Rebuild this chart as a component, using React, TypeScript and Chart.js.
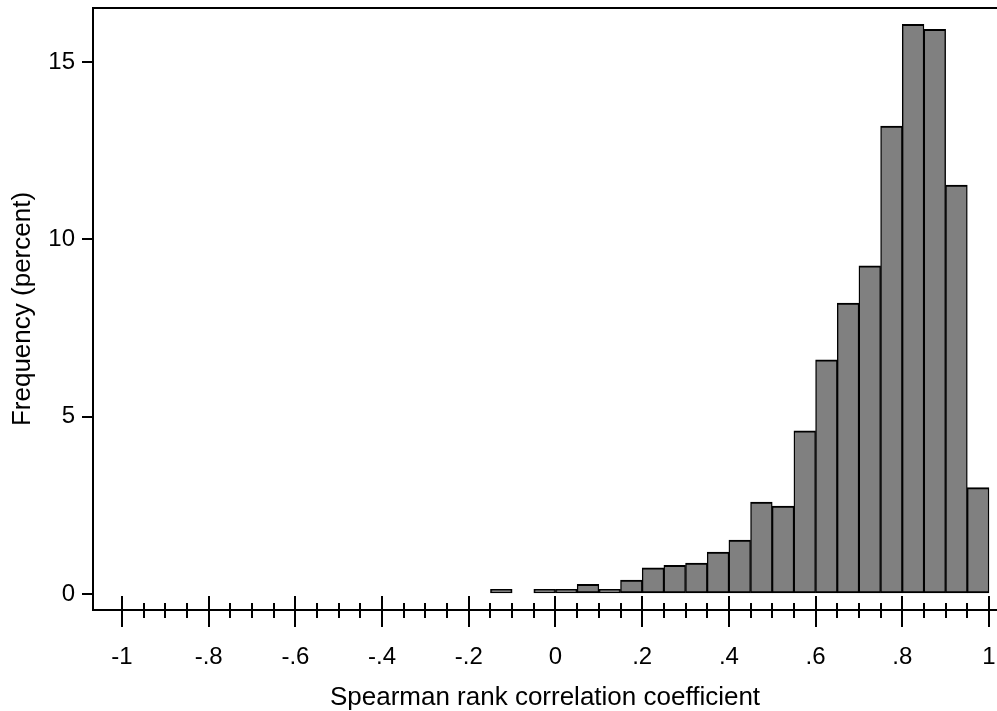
import React, { useEffect, useRef } from 'react';
import { Chart, registerables } from 'chart.js';

Chart.register(...registerables);

// Histogram bins (lower edge) and frequency in percent
const binLower = [
  -0.15, -0.1, -0.05, 0.0, 0.05, 0.1, 0.15, 0.2, 0.25, 0.3, 0.35, 0.4,
  0.45, 0.5, 0.55, 0.6, 0.65, 0.7, 0.75, 0.8, 0.85, 0.9, 0.95,
];
const frequency = [
  0.13, null, 0.13, 0.13, 0.27, 0.13, 0.39, 0.74, 0.81, 0.87, 1.18, 1.52,
  2.59, 2.48, 4.6, 6.6, 8.2, 9.25, 13.19, 16.06, 15.92, 11.53, 3.0,
];
const binWidth = 0.05;

const xMajorTicks = [-1, -0.8, -0.6, -0.4, -0.2, 0, 0.2, 0.4, 0.6, 0.8, 1];
const xTickLabels = ['-1', '-.8', '-.6', '-.4', '-.2', '0', '.2', '.4', '.6', '.8', '1'];
const xMinorTicks = [
  -1, -0.95, -0.9, -0.85, -0.8, -0.75, -0.7, -0.65, -0.6, -0.55, -0.5, -0.45,
  -0.4, -0.35, -0.3, -0.25, -0.2, -0.15, -0.1, -0.05, 0, 0.05, 0.1, 0.15, 0.2,
  0.25, 0.3, 0.35, 0.4, 0.45, 0.5, 0.55, 0.6, 0.65, 0.7, 0.75, 0.8, 0.85, 0.9,
  0.95, 1,
];
const yTicks = [0, 5, 10, 15];
const yTickLabels = ['0', '5', '10', '15'];

const xTitle = 'Spearman rank correlation coefficient';
const yTitle = 'Frequency (percent)';

// axis ranges (frame extents)
const X_MIN = -1.0669;
const X_MAX = 1.0185;
const Y_MIN = -0.451;
const Y_MAX = 16.522;
const Y_MAJOR_TOP = -0.0564; // where upper half of major ticks starts
const Y_MINOR_TOP = -0.2538; // where minor ticks start

const FONT = 'Liberation Sans, Arial, Helvetica, sans-serif';

export default function App() {
  const ref = useRef<HTMLCanvasElement>(null);

  useEffect(() => {
    const canvas = ref.current;
    if (!canvas) return;
    Chart.defaults.color = '#000';
    const points = binLower.map((lo, i) => ({ x: lo + binWidth / 2, y: frequency[i] }));

    const noPad = (s: any) => {
      s.paddingLeft = 0;
      s.paddingRight = 0;
      s.paddingTop = 0;
      s.paddingBottom = 0;
    };

    const hiddenTickAxis = (pos: number, values: number[], len: number) => ({
      type: 'linear' as const,
      axis: 'x' as const,
      position: { y: pos },
      min: X_MIN,
      max: X_MAX,
      offset: false,
      afterBuildTicks: (s: any) => {
        s.ticks = values.map((v) => ({ value: v }));
      },
      afterFit: noPad,
      grid: {
        display: true,
        offset: false,
        drawOnChartArea: false,
        drawTicks: true,
        tickLength: len,
        color: '#000',
        lineWidth: 2,
      },
      border: { display: false },
      ticks: { display: false, autoSkip: false },
    });

    const chart = new Chart(canvas, {
      type: 'bar',
      data: {
        datasets: [
          {
            data: points as any,
            xAxisID: 'x',
            yAxisID: 'y',
            backgroundColor: '#808080',
            borderColor: '#000',
            borderWidth: { top: 2, bottom: 2, left: 1.4, right: 1.4 },
            borderSkipped: false,
            barPercentage: 1,
            categoryPercentage: 1,
          },
        ],
      },
      options: {
        animation: false,
        responsive: false,
        devicePixelRatio: 1,
        layout: { padding: { top: 8, left: 0, right: 0, bottom: 0 } },
        plugins: { legend: { display: false }, tooltip: { enabled: false } },
        scales: {
          x: {
            type: 'linear',
            position: 'bottom',
            min: X_MIN,
            max: X_MAX,
            offset: false,
            afterBuildTicks: (s: any) => {
              s.ticks = xMajorTicks.map((v) => ({ value: v }));
            },
            afterFit: (s: any) => {
              s.height = 101;
              noPad(s);
            },
            grid: {
              display: true,
              offset: false,
              drawOnChartArea: false,
              drawTicks: true,
              tickLength: 17,
              color: '#000',
              lineWidth: 2,
            },
            border: { display: true, color: '#000', width: 2 },
            ticks: {
              autoSkip: false,
              maxRotation: 0,
              minRotation: 0,
              padding: 16,
              color: '#000',
              font: { family: FONT, size: 24 },
              callback: (_v: any, i: number) => xTickLabels[i],
            },
            title: {
              display: true,
              text: xTitle,
              color: '#000',
              font: { family: FONT, size: 26, lineHeight: 1 },
              padding: 0,
            },
          },
          xUp: hiddenTickAxis(Y_MAJOR_TOP, xMajorTicks, 14) as any,
          xMinor: hiddenTickAxis(Y_MINOR_TOP, xMinorTicks, 15) as any,
          xTop: {
            type: 'linear',
            axis: 'x',
            position: { y: Y_MAX },
            min: X_MIN,
            max: X_MAX,
            offset: false,
            afterFit: noPad,
            grid: { display: false, offset: false, drawTicks: false },
            border: { display: true, color: '#000', width: 2 },
            ticks: { display: false },
          } as any,
          y: {
            type: 'linear',
            position: 'left',
            min: Y_MIN,
            max: Y_MAX,
            afterBuildTicks: (s: any) => {
              s.ticks = yTicks.map((v) => ({ value: v }));
            },
            afterFit: (s: any) => {
              s.width = 93;
              noPad(s);
            },
            grid: {
              display: true,
              drawOnChartArea: false,
              drawTicks: true,
              tickLength: 11,
              color: '#000',
              lineWidth: 2,
            },
            border: { display: true, color: '#000', width: 2 },
            ticks: {
              padding: 7,
              color: '#000',
              font: { family: FONT, size: 24 },
              callback: (_v: any, i: number) => yTickLabels[i],
            },
            title: {
              display: true,
              text: yTitle,
              color: '#000',
              font: { family: FONT, size: 26, lineHeight: 1 },
              padding: { top: 10, bottom: 0 },
            },
          },
        },
      },
    });
    return () => chart.destroy();
  }, []);

  return (
    <div style={{ position: 'absolute', left: 0, top: 0, width: 997, height: 711, background: '#fff' }}>
      <canvas ref={ref} width={997} height={711} style={{ display: 'block' }} />
    </div>
  );
}
